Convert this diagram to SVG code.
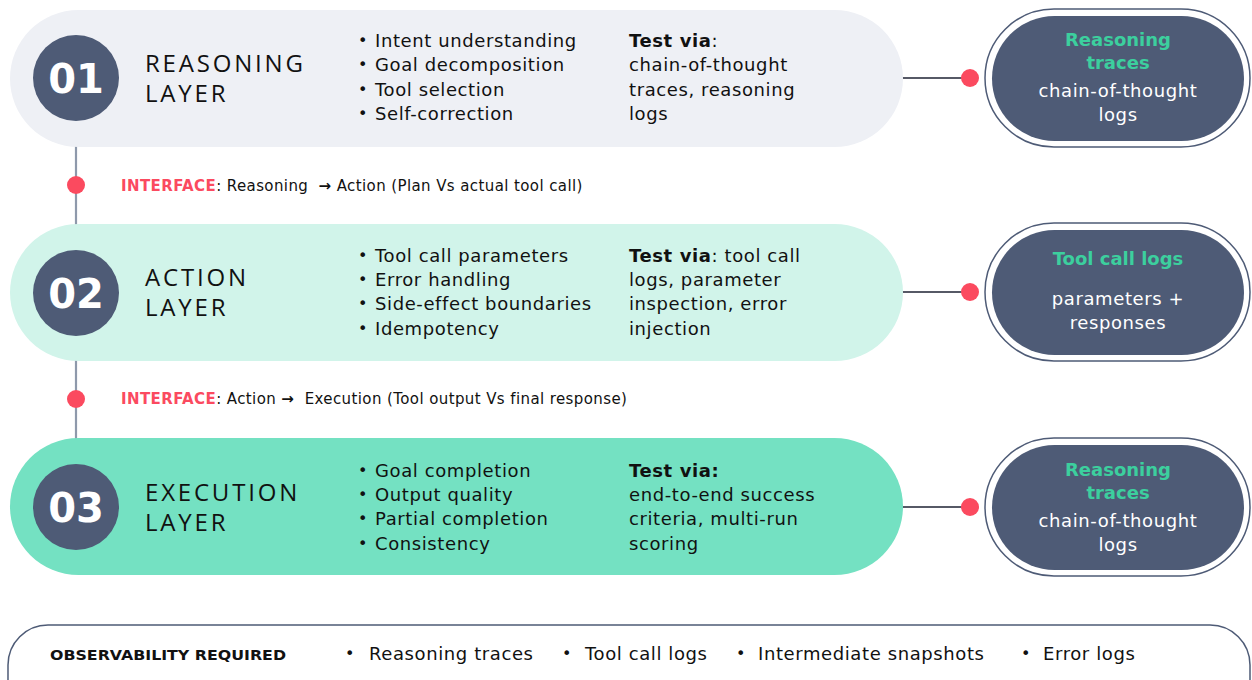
<svg xmlns="http://www.w3.org/2000/svg" width="1252" height="680" viewBox="0 0 1252 680">
<style>
.t{font-family:"DejaVu Sans","Open Sans",sans-serif;fill:#111;}
.title{font-family:"Open Sans","DejaVu Sans",sans-serif;font-size:24px;font-weight:400;letter-spacing:2.8px;fill:#111;}
.num{font-size:40px;font-weight:700;fill:#fff;text-anchor:middle;}
.body{font-size:18px;letter-spacing:0.6px;}
.bul{font-size:16px;}
.b{font-weight:700;}
.iface{font-size:15px;letter-spacing:0.4px;}
.red{fill:#fb4a5f;font-weight:700;}
.ntitle{font-size:18px;font-weight:700;fill:#3ccf9e;text-anchor:middle;}
.ntext{font-size:18px;fill:#fff;text-anchor:middle;letter-spacing:0.6px;}
.dot{fill:#fb4a5f;}
.conn{stroke:#1e2233;stroke-width:1.5;fill:none;}
.spine{stroke:#8e99ab;stroke-width:2.2;fill:none;}
.badge{fill:#4e5b76;}
.outer{fill:#fff;stroke:#4e5b76;stroke-width:1.5;}
.inner{fill:#4e5b76;}
</style>

<g id="connectors">
  <line class="spine" x1="76" y1="78" x2="76" y2="507"/>
  <line class="conn" x1="900" y1="78" x2="970" y2="78"/>
  <line class="conn" x1="900" y1="292" x2="970" y2="292"/>
  <line class="conn" x1="900" y1="507" x2="970" y2="507"/>
</g>

<g id="layer1">
  <rect x="10" y="10" width="893" height="137" rx="68.5" fill="#eef0f5"/>
  <circle class="badge" cx="76" cy="78" r="43"/>
  <text class="t num" x="76" y="93">01</text>
  <text class="title" x="145" y="72">REASONING</text>
  <text class="title" x="145" y="102">LAYER</text>
  <g class="t bul"><text x="358" y="46">•</text><text x="358" y="70">•</text><text x="358" y="95">•</text><text x="358" y="119">•</text></g>
  <text class="t body" x="375" y="47">Intent understanding</text>
  <text class="t body" x="375" y="71">Goal decomposition</text>
  <text class="t body" x="375" y="96">Tool selection</text>
  <text class="t body" x="375" y="120">Self-correction</text>
  <text class="t body" x="629" y="47"><tspan class="b">Test via</tspan>:</text>
  <text class="t body" x="629" y="71">chain-of-thought</text>
  <text class="t body" x="629" y="96">traces, reasoning</text>
  <text class="t body" x="629" y="120">logs</text>
</g>

<g id="interface1">
  <circle class="dot" cx="76" cy="185" r="9"/>
  <text class="t iface" x="121" y="191" xml:space="preserve"><tspan class="red">INTERFACE</tspan>: Reasoning  <tspan font-weight="700">→</tspan> Action (Plan Vs actual tool call)</text>
</g>

<g id="layer2">
  <rect x="10" y="224" width="893" height="137" rx="68.5" fill="#d1f4ea"/>
  <circle class="badge" cx="76" cy="293" r="43"/>
  <text class="t num" x="76" y="308">02</text>
  <text class="title" x="145" y="286">ACTION</text>
  <text class="title" x="145" y="316">LAYER</text>
  <g class="t bul"><text x="358" y="261">•</text><text x="358" y="285">•</text><text x="358" y="309">•</text><text x="358" y="334">•</text></g>
  <text class="t body" x="375" y="262">Tool call parameters</text>
  <text class="t body" x="375" y="286">Error handling</text>
  <text class="t body" x="375" y="310">Side-effect boundaries</text>
  <text class="t body" x="375" y="335">Idempotency</text>
  <text class="t body" x="629" y="262"><tspan class="b">Test via</tspan>: tool call</text>
  <text class="t body" x="629" y="286">logs, parameter</text>
  <text class="t body" x="629" y="310">inspection, error</text>
  <text class="t body" x="629" y="335">injection</text>
</g>

<g id="interface2">
  <circle class="dot" cx="76" cy="399" r="9"/>
  <text class="t iface" x="121" y="404" xml:space="preserve"><tspan class="red">INTERFACE</tspan>: Action <tspan font-weight="700">→</tspan>  Execution (Tool output Vs final response)</text>
</g>

<g id="layer3">
  <rect x="10" y="438" width="893" height="137" rx="68.5" fill="#74e1c2"/>
  <circle class="badge" cx="76" cy="507" r="43"/>
  <text class="t num" x="76" y="522">03</text>
  <text class="title" x="145" y="501">EXECUTION</text>
  <text class="title" x="145" y="531">LAYER</text>
  <g class="t bul"><text x="358" y="476">•</text><text x="358" y="500">•</text><text x="358" y="524">•</text><text x="358" y="549">•</text></g>
  <text class="t body" x="375" y="477">Goal completion</text>
  <text class="t body" x="375" y="501">Output quality</text>
  <text class="t body" x="375" y="525">Partial completion</text>
  <text class="t body" x="375" y="550">Consistency</text>
  <text class="t body b" x="629" y="477">Test via:</text>
  <text class="t body" x="629" y="501">end-to-end success</text>
  <text class="t body" x="629" y="525">criteria, multi-run</text>
  <text class="t body" x="629" y="550">scoring</text>
</g>

<g id="obs1">
  <circle class="dot" cx="970" cy="78" r="9"/>
  <rect class="outer" x="985" y="9" width="265" height="138" rx="69"/>
  <rect class="inner" x="992" y="16" width="252" height="125" rx="62.5"/>
  <text class="t ntitle" x="1118" y="46">Reasoning</text>
  <text class="t ntitle" x="1118" y="69">traces</text>
  <text class="t ntext" x="1118" y="97">chain-of-thought</text>
  <text class="t ntext" x="1118" y="121">logs</text>
</g>

<g id="obs2">
  <circle class="dot" cx="970" cy="292" r="9"/>
  <rect class="outer" x="985" y="223" width="265" height="138" rx="69"/>
  <rect class="inner" x="992" y="230" width="252" height="125" rx="62.5"/>
  <text class="t ntitle" x="1118" y="265">Tool call logs</text>
  <text class="t ntext" x="1118" y="305">parameters +</text>
  <text class="t ntext" x="1118" y="329">responses</text>
</g>

<g id="obs3">
  <circle class="dot" cx="970" cy="507" r="9"/>
  <rect class="outer" x="985" y="438" width="265" height="138" rx="69"/>
  <rect class="inner" x="992" y="445" width="252" height="125" rx="62.5"/>
  <text class="t ntitle" x="1118" y="476">Reasoning</text>
  <text class="t ntitle" x="1118" y="499">traces</text>
  <text class="t ntext" x="1118" y="527">chain-of-thought</text>
  <text class="t ntext" x="1118" y="551">logs</text>
</g>

<g id="observability">
  <rect x="8" y="625" width="1242" height="110" rx="40" fill="#fff" stroke="#4e5b76" stroke-width="1.5"/>
  <text class="t b" x="50" y="660" font-size="14" textLength="236" lengthAdjust="spacingAndGlyphs">OBSERVABILITY REQUIRED</text>
  <g class="t bul"><text x="345" y="659">•</text><text x="562" y="659">•</text><text x="736" y="659">•</text><text x="1021" y="659">•</text></g>
  <text class="t body" x="369" y="660">Reasoning traces</text>
  <text class="t body" x="585" y="660">Tool call logs</text>
  <text class="t body" x="758" y="660">Intermediate snapshots</text>
  <text class="t body" x="1043" y="660">Error logs</text>
</g>
</svg>
